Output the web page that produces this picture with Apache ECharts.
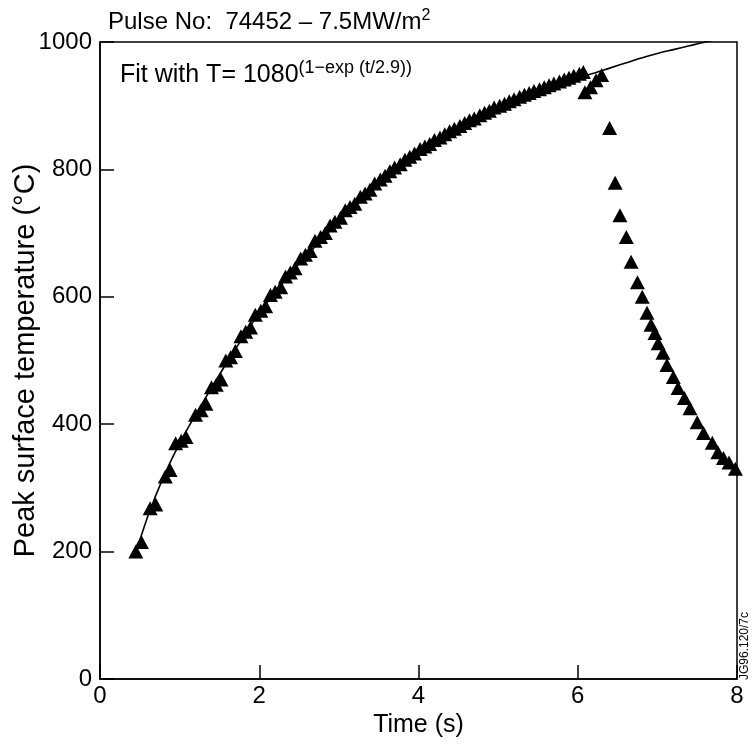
<!DOCTYPE html>
<html>
<head>
<meta charset="utf-8">
<script src="https://cdn.jsdelivr.net/npm/echarts@6/dist/echarts.min.js"></script>
<style>html,body{margin:0;padding:0;background:#fff}#c{width:753px;height:749px}</style>
</head>
<body>
<div id="c"></div>
<script>
// Rising phase measurements
const riseTime = [0.45,0.52,0.63,0.70,0.82,0.88,0.95,1.02,1.08,1.20,1.27,1.33,1.40,1.46,1.52,1.58,1.64,1.70,1.77,1.83,1.89,1.95,2.02,2.08,2.14,2.20,2.27,2.33,2.39,2.45,2.52,2.58,2.64,2.70,2.77,2.83,2.89,2.95,3.02,3.08,3.14,3.20,3.27,3.33,3.39,3.45,3.52,3.58,3.64,3.70,3.77,3.83,3.89,3.95,4.02,4.08,4.14,4.20,4.27,4.33,4.39,4.45,4.52,4.58,4.64,4.70,4.77,4.83,4.89,4.95,5.02,5.08,5.14,5.20,5.27,5.33,5.39,5.45,5.52,5.58,5.64,5.70,5.77,5.83,5.89,5.95,6.02,6.07];
const riseTemp = [200,215,268,274,318,328,370,374,380,415,422,432,458,462,470,500,505,515,538,545,552,572,578,585,603,608,615,632,638,645,660,666,672,688,694,700,712,718,724,736,741,746,757,762,768,778,784,790,797,803,808,815,820,825,832,836,840,846,850,855,860,864,868,873,877,880,885,889,892,897,900,903,907,910,914,917,920,923,926,929,932,935,938,941,944,947,950,953];
// Cooling phase measurements
const fallTime = [6.09,6.16,6.23,6.30,6.40,6.47,6.53,6.61,6.67,6.75,6.81,6.87,6.92,6.97,7.01,7.07,7.12,7.20,7.26,7.34,7.41,7.50,7.58,7.69,7.76,7.83,7.90,7.98];
const fallTemp = [921,929,940,948,865,779,728,694,655,623,600,575,556,543,527,512,493,474,457,441,425,403,386,371,356,347,340,330];
// Fit curve
const fitTime = [0.43,0.6,0.8,1.0,1.2,1.4,1.6,1.8,2.0,2.2,2.4,2.6,2.8,3.0,3.2,3.4,3.6,3.8,4.0,4.2,4.4,4.6,4.8,5.0,5.2,5.4,5.6,5.8,6.0,6.2,6.4,6.6,6.8,7.0,7.2,7.4,7.6,7.8,8.0];
const fitTemp = [190,255,318,370,415,457,498,537,575,607,638,665,692,718,742,764,785,805,823,840,856,870,884,897,909,920,929,937,944,951,959,967,975,982,988,994,1000,1005,1010];
const xTicks = [0,2,4,6,8];
const yTicks = [0,200,400,600,800,1000];

const zip = (a,b) => a.map((v,i)=>[v,b[i]]);
const FONT = 'Liberation Sans, Arial, Helvetica, sans-serif';
const chart = echarts.init(document.getElementById('c'));
chart.setOption({
  animation:false,
  backgroundColor:'#fff',
  grid:{left:100,right:16,top:42,bottom:70,containLabel:false,outerBoundsMode:'none',
        show:true,borderColor:'#000',borderWidth:1.5,backgroundColor:'transparent'},
  title:{
    text:'{a|Pulse No:  74452 – 7.5MW/m}{s|2}',
    left:103, top:3,
    textStyle:{fontWeight:'normal',rich:{
      a:{fontFamily:FONT,fontSize:24,fontWeight:'normal',color:'#000',verticalAlign:'bottom'},
      s:{fontFamily:FONT,fontSize:16,fontWeight:'normal',color:'#000',verticalAlign:'top',padding:[0,0,10,0]}
    }}
  },
  graphic:[
    {type:'text',left:120,top:59,style:{
      text:'{a|Fit with T= 1080}{s|(1−exp (t/2.9))}',
      rich:{
        a:{fontFamily:FONT,fontSize:25,fill:'#000'},
        s:{fontFamily:FONT,fontSize:18,fill:'#000',padding:[0,0,15,0]}
      }}},
    {type:'text',x:739,y:680,rotation:Math.PI/2,style:{text:'JG96.120/7c',fontFamily:FONT,fontSize:12,fill:'#000',verticalAlign:'top'}}
  ],
  xAxis:{
    type:'value',min:0,max:8,interval:2,
    name:'Time (s)',nameLocation:'middle',nameGap:34,nameMoveOverlap:false,
    nameTextStyle:{fontFamily:FONT,fontSize:25,color:'#000'},
    axisLine:{lineStyle:{color:'#000',width:1.5}},
    axisTick:{inside:true,length:14,lineStyle:{color:'#000',width:1.5}},
    axisLabel:{fontFamily:FONT,fontSize:24,color:'#000',margin:5,
      formatter:v=>xTicks.includes(v)?String(v):''},
    splitLine:{show:false}
  },
  yAxis:{
    type:'value',min:0,max:1000,interval:200,
    name:'Peak surface temperature (°C)',nameLocation:'middle',nameGap:60,nameMoveOverlap:false,
    nameTextStyle:{fontFamily:FONT,fontSize:29,color:'#000'},
    axisLine:{lineStyle:{color:'#000',width:1.5}},
    axisTick:{inside:true,length:14,lineStyle:{color:'#000',width:1.5}},
    axisLabel:{fontFamily:FONT,fontSize:24,color:'#000',margin:8,
      formatter:v=>yTicks.includes(v)?String(v):''},
    splitLine:{show:false}
  },
  series:[
    {type:'line',data:zip(fitTime,fitTemp),smooth:0.3,showSymbol:false,symbol:'none',
     lineStyle:{color:'#000',width:1.6},clip:true,z:3},
    {type:'scatter',data:zip(riseTime,riseTemp),symbol:'triangle',symbolSize:[15,14],
     itemStyle:{color:'#000',opacity:1},z:4},
    {type:'scatter',data:zip(fallTime,fallTemp),symbol:'triangle',symbolSize:[15,14],
     itemStyle:{color:'#000',opacity:1},z:4}
  ]
});
</script>
</body>
</html>
